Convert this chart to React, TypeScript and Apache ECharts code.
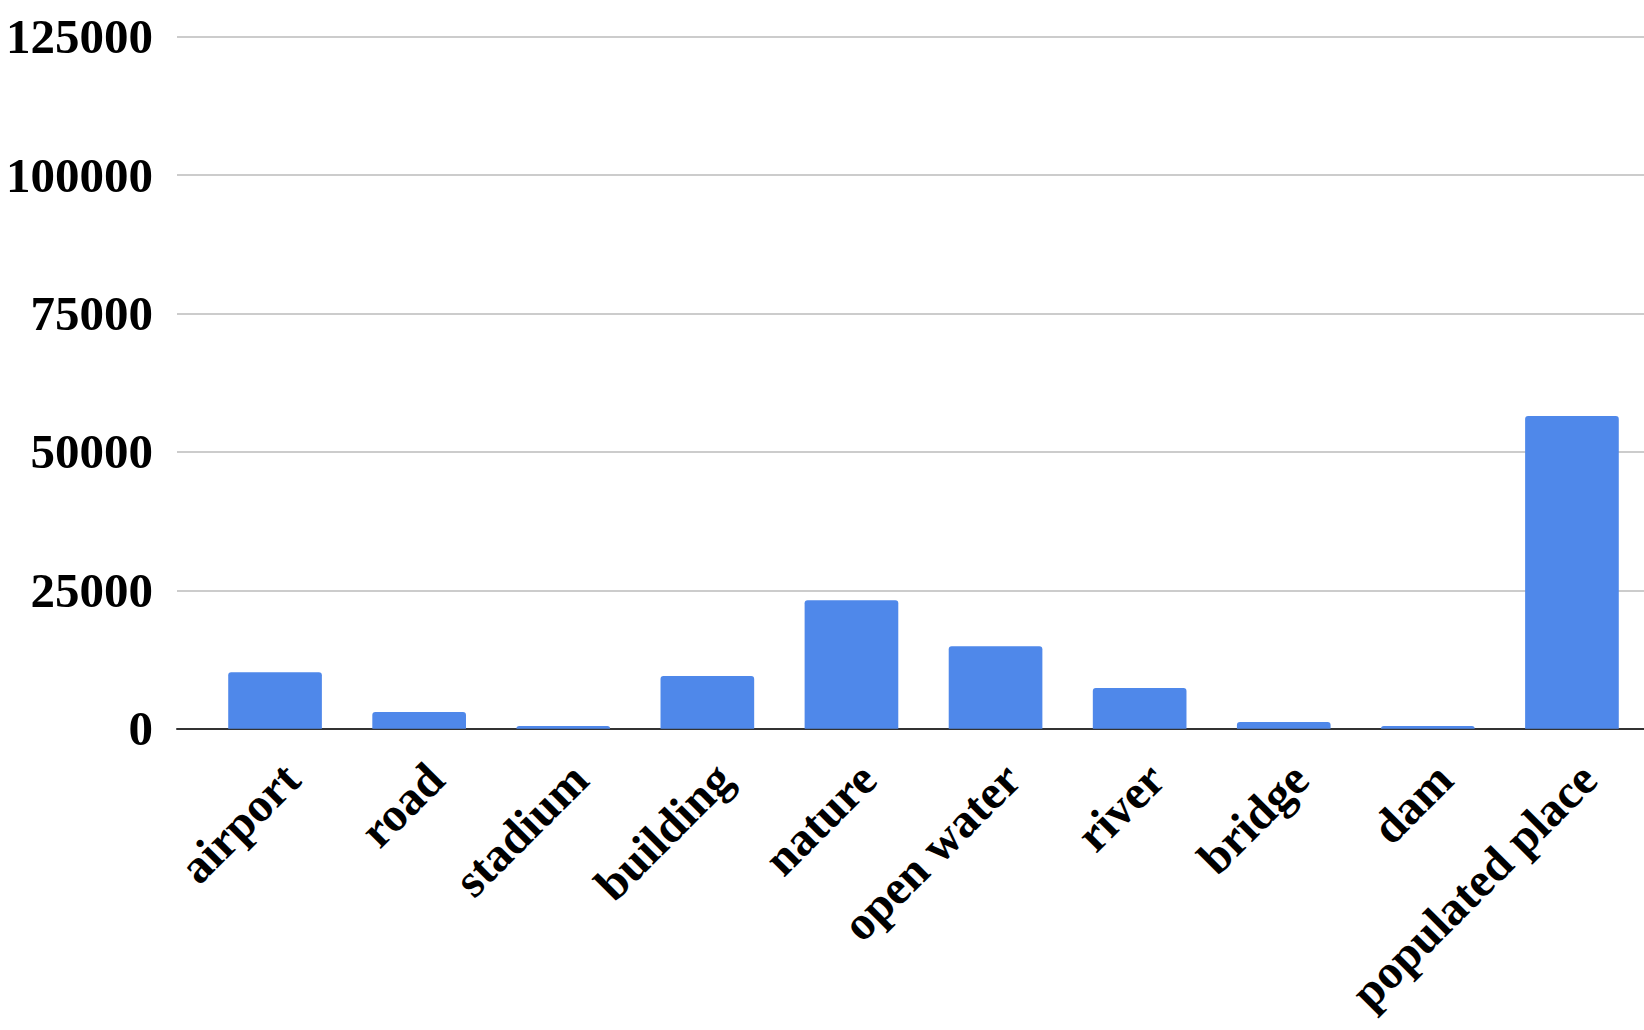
import React, { useEffect, useRef } from "react";
import * as echarts from "echarts";

const categories = [
  "airport",
  "road",
  "stadium",
  "building",
  "nature",
  "open water",
  "river",
  "bridge",
  "dam",
  "populated place",
];
const values = [10200, 3000, 500, 9500, 23200, 14900, 7350, 1200, 500, 56500];
const yMin = 0;
const yMax = 125000;
const yInterval = 25000;

const FONT = "'Liberation Serif', 'Times New Roman', serif";

export default function App() {
  const ref = useRef<HTMLDivElement>(null);
  useEffect(() => {
    if (!ref.current) return;
    const chart = echarts.init(ref.current, undefined, { renderer: "svg" });
    chart.setOption({
      animation: false,
      backgroundColor: "#ffffff",
      grid: [
        { left: 177, right: 0, top: 36.7, bottom: 301.3 },
        { left: 203, right: -3.5, top: 36.7, bottom: 301.3 },
      ],
      xAxis: [
        {
          gridIndex: 0,
          type: "value",
          min: 0,
          max: 1,
          show: true,
          axisLine: { show: true, onZero: false, lineStyle: { color: "#333333", width: 2 } },
          axisTick: { show: false },
          axisLabel: { show: false },
          splitLine: { show: false },
        },
        {
          gridIndex: 1,
          type: "category",
          data: categories,
          axisLine: { show: false },
          axisTick: { show: false },
          axisLabel: {
            rotate: 45,
            interval: 0,
            margin: 26,
            verticalAlign: "top",
            lineHeight: 46,
            color: "#000000",
            fontFamily: FONT,
            fontWeight: "bold",
            fontSize: 48,
          },
        },
      ],
      yAxis: [
        {
          gridIndex: 0,
          type: "value",
          min: yMin,
          max: yMax,
          interval: yInterval,
          axisLine: { show: false },
          axisTick: { show: false },
          axisLabel: {
            margin: 24,
            color: "#000000",
            fontFamily: FONT,
            fontWeight: "bold",
            fontSize: 49,
            formatter: (v: number) => String(v),
          },
          splitLine: { show: true, lineStyle: { color: "#cccccc", width: 2 } },
        },
        {
          gridIndex: 1,
          type: "value",
          min: yMin,
          max: yMax,
          interval: yInterval,
          show: false,
          splitLine: { show: false },
        },
      ],
      series: [
        {
          type: "bar",
          xAxisIndex: 1,
          yAxisIndex: 1,
          data: values,
          barCategoryGap: "35%",
          itemStyle: { color: "#4f88ea", borderRadius: [3, 3, 0, 0] },
          z: 1,
        },
      ],
    });
    return () => chart.dispose();
  }, []);
  return (
    <div
      ref={ref}
      style={{ position: "fixed", left: 0, top: 0, width: 1644, height: 1030 }}
    />
  );
}
